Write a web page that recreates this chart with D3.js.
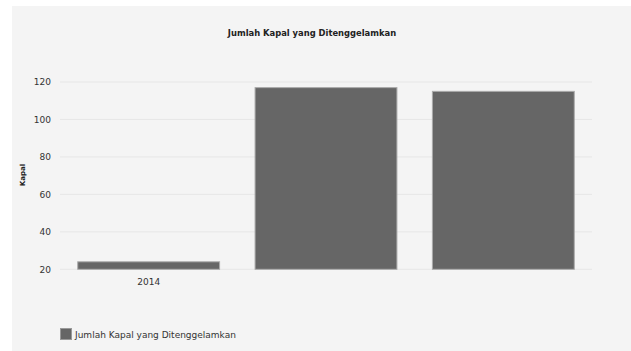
<!DOCTYPE html>
<html>
<head>
<meta charset="utf-8">
<script src="https://cdn.jsdelivr.net/npm/d3@7"></script>
<style>
    body { margin: 0; background: #fff; }
    text { font-family: "DejaVu Sans", Verdana, sans-serif; }
</style>
</head>
<body>
<div id="chart"></div>
<script>
// data
var categories = ["2014", "2015", "2016"];
var tickLabels = ["2014", "", ""];
var values = [24, 117, 115];
var yTicks = [20, 40, 60, 80, 100, 120];
var seriesName = "Jumlah Kapal yang Ditenggelamkan";
var chartTitle = "Jumlah Kapal yang Ditenggelamkan";
var yTitle = "Kapal";

var width = 631, height = 351;
var svg = d3.select("#chart")
    .append("svg")
    .attr("width", width)
    .attr("height", height);

// panel background
svg.append("rect")
    .attr("x", 12).attr("y", 6)
    .attr("width", width - 12).attr("height", height - 6)
    .attr("fill", "#f4f4f4");

var x = d3.scaleBand()
    .domain(categories)
    .range([60, 592])
    .paddingInner(0.2)
    .paddingOuter(0.1);

var y = d3.scaleLinear()
    .domain([20, 120])
    .range([269.3, 82]);

// grid lines
svg.append("g")
    .selectAll("line")
    .data(yTicks)
    .enter()
    .append("line")
    .attr("x1", 60).attr("x2", 592)
    .attr("y1", (d) => y(d)).attr("y2", (d) => y(d))
    .attr("stroke", "#e6e6e6")
    .attr("stroke-width", 1);

// y axis labels
var yAxis = d3.axisLeft(y).tickValues(yTicks).tickSize(0).tickPadding(0);
var gy = svg.append("g")
    .attr("transform", "translate(51,0)")
    .call(yAxis);
gy.select(".domain").remove();
gy.selectAll("text")
    .attr("font-size", 9)
    .attr("fill", "#333")
    .style("font-family", "DejaVu Sans, sans-serif");

// x axis labels
var xAxis = d3.axisBottom(x).tickFormat((d, i) => tickLabels[i]).tickSize(0).tickPadding(0);
var gx = svg.append("g")
    .attr("transform", "translate(0,279)")
    .call(xAxis);
gx.select(".domain").remove();
gx.selectAll("text")
    .attr("font-size", 9)
    .attr("fill", "#333")
    .style("font-family", "DejaVu Sans, sans-serif");

// bars
svg.append("g")
    .selectAll("rect")
    .data(values)
    .enter()
    .append("rect")
    .attr("x", (d, i) => x(categories[i]))
    .attr("y", (d) => y(d))
    .attr("width", x.bandwidth())
    .attr("height", (d) => y(20) - y(d))
    .attr("fill", "#666")
    .attr("stroke", "#aaa")
    .attr("stroke-width", 1);

// title
svg.append("text")
    .attr("x", 312).attr("y", 36)
    .attr("text-anchor", "middle")
    .attr("font-size", 8.4)
    .attr("font-weight", "bold")
    .attr("fill", "#222")
    .text(chartTitle);

// y axis title
svg.append("text")
    .attr("transform", "translate(25,175) rotate(-90)")
    .attr("text-anchor", "middle")
    .attr("font-size", 7)
    .attr("font-weight", "bold")
    .attr("fill", "#222")
    .text(yTitle);

// legend
svg.append("rect")
    .attr("x", 60.5).attr("y", 328.5)
    .attr("width", 11).attr("height", 11)
    .attr("fill", "#666")
    .attr("stroke", "#999");
svg.append("text")
    .attr("x", 75).attr("y", 337.5)
    .attr("font-size", 9)
    .attr("fill", "#333")
    .text(seriesName);
</script>
</body>
</html>
